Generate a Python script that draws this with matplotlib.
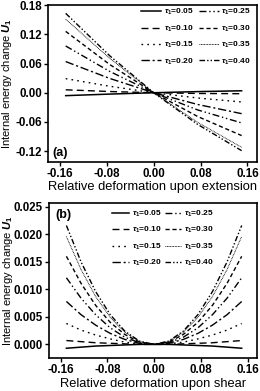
import matplotlib
matplotlib.use('Agg')
import matplotlib.pyplot as plt

plt.rcParams['font.family'] = ['Liberation Sans', 'DejaVu Sans']
plt.rcParams['font.weight'] = 'bold'
plt.rcParams['mathtext.fontset'] = 'custom'
plt.rcParams['mathtext.rm'] = 'Liberation Sans:bold'
plt.rcParams['mathtext.it'] = 'Liberation Sans:italic:bold'
plt.rcParams['mathtext.bf'] = 'Liberation Sans:bold'

taus = ['0.05', '0.10', '0.15', '0.20', '0.25', '0.30', '0.35', '0.40']

# (a) extension
x_ext = [-0.15, -0.075, 0.0, 0.075, 0.15]
u_ext = [
    [-0.006, -0.0028, 0.0, 0.0023, 0.004],
    [0.006, 0.0025, 0.0, -0.0015, -0.002],
    [0.029, 0.0133, 0.0, -0.0108, -0.019],
    [0.064, 0.0294, 0.0, -0.0241, -0.043],
    [0.096, 0.0438, 0.0, -0.0353, -0.062],
    [0.126, 0.058, 0.0, -0.0488, -0.088],
    [0.151, 0.0706, 0.0, -0.0609, -0.112],
    [0.163, 0.076, 0.0, -0.065, -0.119],
]

# (b) shear
x_sh = [-0.15, -0.125, -0.10, -0.075, -0.05, -0.025, 0.0,
        0.025, 0.05, 0.075, 0.10, 0.125, 0.15]
u_sh = [
    [-0.0007, -0.0005, -0.0003, -0.0002, -0.0001, 0.0, 0.0, 0.0, -0.0001, -0.0002, -0.0003, -0.0005, -0.0007],
    [0.0007, 0.0005, 0.0003, 0.0002, 0.0001, 0.0, 0.0, 0.0, 0.0001, 0.0002, 0.0003, 0.0005, 0.0007],
    [0.0038, 0.0026, 0.0017, 0.0010, 0.0004, 0.0001, 0.0, 0.0001, 0.0004, 0.0010, 0.0017, 0.0026, 0.0038],
    [0.0078, 0.0054, 0.0035, 0.0020, 0.0009, 0.0002, 0.0, 0.0002, 0.0009, 0.0020, 0.0035, 0.0054, 0.0078],
    [0.0121, 0.0084, 0.0054, 0.0030, 0.0013, 0.0003, 0.0, 0.0003, 0.0013, 0.0030, 0.0054, 0.0084, 0.0121],
    [0.0160, 0.0111, 0.0071, 0.0040, 0.0018, 0.0004, 0.0, 0.0004, 0.0018, 0.0040, 0.0071, 0.0111, 0.0160],
    [0.0196, 0.0136, 0.0087, 0.0049, 0.0022, 0.0005, 0.0, 0.0005, 0.0022, 0.0049, 0.0087, 0.0136, 0.0196],
    [0.0216, 0.0150, 0.0096, 0.0054, 0.0024, 0.0006, 0.0, 0.0006, 0.0024, 0.0054, 0.0096, 0.0150, 0.0216],
]

styles = ['-', (0, (5, 3)), (0, (1.2, 3)), (0, (6, 2, 1.5, 2)),
          (0, (5, 2, 1, 2, 1, 2)), (0, (3, 2)), (0, (0.8, 0.8)),
          (0, (4, 1.5, 1, 1.5, 1, 1.5))]
widths = [1.1, 1.0, 1.0, 1.0, 1.0, 1.0, 0.7, 1.0]

fig = plt.figure(figsize=(2.6, 3.91), dpi=100)
ax1 = fig.add_axes([0.185, 0.586, 0.803, 0.401])
ax2 = fig.add_axes([0.188, 0.084, 0.800, 0.397])


def style_axes(ax):
    for sp in ax.spines.values():
        sp.set_linewidth(1.2)
    ax.tick_params(direction='out', length=3, width=1, labelsize=8.3, pad=1.3)
    ax.set_xlim(-0.18, 0.176)
    ax.set_xticks([-0.16, -0.08, 0.0, 0.08, 0.16])
    ax.set_xticklabels(['-0.16', '-0.08', '0.00', '0.08', '0.16'])
    ax.yaxis.set_label_coords(-0.162, 0.5)


for i, t in enumerate(taus):
    ax1.plot(x_ext, u_ext[i], color='black', ls=styles[i], lw=widths[i],
             label=r'$\tau_1$=' + t)
    ax2.plot(x_sh, u_sh[i], color='black', ls=styles[i], lw=widths[i],
             label=r'$\tau_1$=' + t)

style_axes(ax1)
ax1.set_ylim(-0.142, 0.18)
ax1.set_yticks([-0.12, -0.06, 0.0, 0.06, 0.12, 0.18])
ax1.set_yticklabels(['-0.12', '-0.06', '0.00', '0.06', '0.12', '0.18'])
ax1.set_xlabel('Relative deformation upon extension', fontsize=9.3, labelpad=1)
ax1.set_ylabel(r'Internal energy change $U_1$', fontsize=8)
ax1.text(0.02, 0.04, '(a)', transform=ax1.transAxes, fontsize=9)
ax1.legend(ncol=2, loc='upper right', bbox_to_anchor=(1.0, 1.025),
           fontsize=6, frameon=False,
           handlelength=2.4, handletextpad=0.3, columnspacing=0.6,
           labelspacing=0.75, borderaxespad=0.3)

style_axes(ax2)
ax2.set_ylim(-0.0025, 0.0257)
ax2.set_yticks([0.0, 0.005, 0.010, 0.015, 0.020, 0.025])
ax2.set_yticklabels(['0.000', '0.005', '0.010', '0.015', '0.020', '0.025'])
ax2.set_xlabel('Relative deformation upon shear', fontsize=9.3, labelpad=1)
ax2.set_ylabel(r'Internal energy change $U_1$', fontsize=8)
ax2.text(0.03, 0.9, '(b)', transform=ax2.transAxes, fontsize=9)
ax2.legend(ncol=2, loc='upper right', bbox_to_anchor=(0.82, 1.0),
           fontsize=6, frameon=False,
           handlelength=2.0, handletextpad=0.3, columnspacing=0.4,
           labelspacing=0.75, borderaxespad=0.3)

fig.savefig('out.png', dpi=100)
